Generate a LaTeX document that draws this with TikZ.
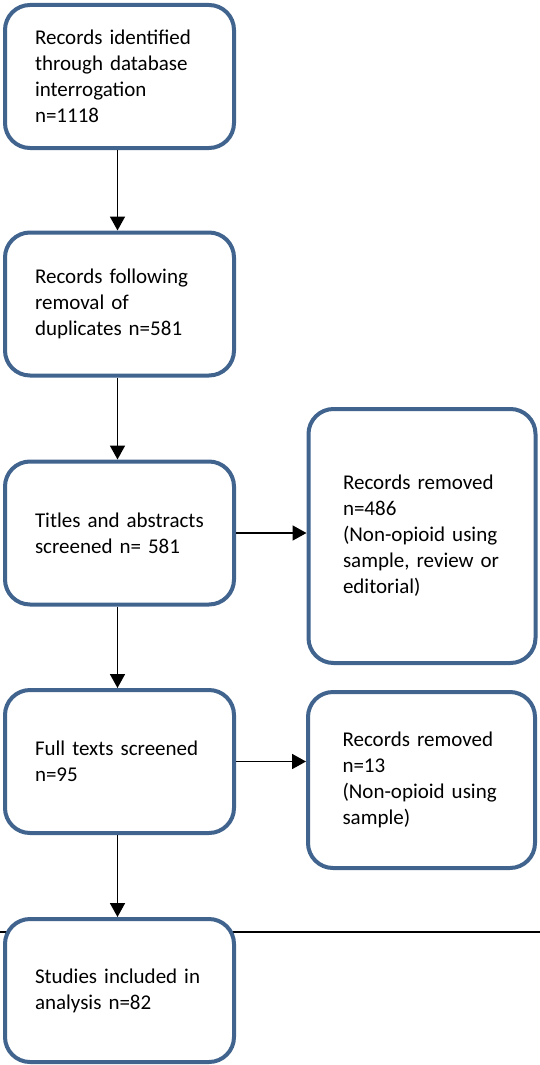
\documentclass[tikz,border=0pt]{standalone}
\usepackage{fontspec}
\setmainfont{Carlito}
\usetikzlibrary{arrows.meta}
\definecolor{Frame}{HTML}{41648F}

\begin{document}
\begin{tikzpicture}[x=1pt,y=-1pt,
  flowbox/.style={draw=Frame,line width=4pt,fill=white,rounded corners=25pt,
    minimum width=229pt,minimum height=143pt,inner xsep=30pt,text width=169pt,
    align=left,font=\fontsize{21}{26}\selectfont},
  sidebox/.style={flowbox,minimum width=227pt,inner xsep=34pt,text width=158pt},
  flowarrow/.style={line width=1.8pt,-{Triangle[width=15pt,length=14pt]}}]
\useasboundingbox (0,0) rectangle (540,1065);
% stray rule behind the last box
\coordinate (rule west) at (0,932);
\coordinate (rule east) at (540,932);
\draw[line width=2pt] (rule west) -- (rule east);
% main column
\node[flowbox] (found) at (119.5,76.5) {Records identified\\through database\\interrogation\\n=1118};
\node[flowbox] (dedup) at (119.5,304) {Records following\\removal of\\duplicates n=581};
\node[flowbox] (titles) at (119.5,533) {Titles and abstracts\\screened n= 581};
\node[flowbox] (fulltext) at (119.5,761.5) {Full texts screened\\n=95};
\node[flowbox] (included) at (119.5,990.5) {Studies included in\\analysis n=82};
% exclusions
\node[sidebox,minimum height=254pt] (dropA) at (422,536) {Records removed\\n=486\\(Non-opioid using\\sample, review or\\editorial)};
\node[sidebox,minimum height=176pt] (dropB) at (421.5,780) {Records removed\\n=13\\(Non-opioid using\\sample)};
\draw[flowarrow] ([xshift=-2pt]found.south) -- ([xshift=-2pt]dedup.north);
\draw[flowarrow] ([xshift=-2pt]dedup.south) -- ([xshift=-2pt]titles.north);
\draw[flowarrow] ([xshift=-2pt]titles.south) -- ([xshift=-2pt]fulltext.north);
\draw[flowarrow] ([xshift=-2pt]fulltext.south) -- ([xshift=-2pt]included.north);
\draw[flowarrow] (titles.east) -- (titles.east -| dropA.west);
\draw[flowarrow] (fulltext.east) -- (fulltext.east -| dropB.west);
\end{tikzpicture}
\end{document}
